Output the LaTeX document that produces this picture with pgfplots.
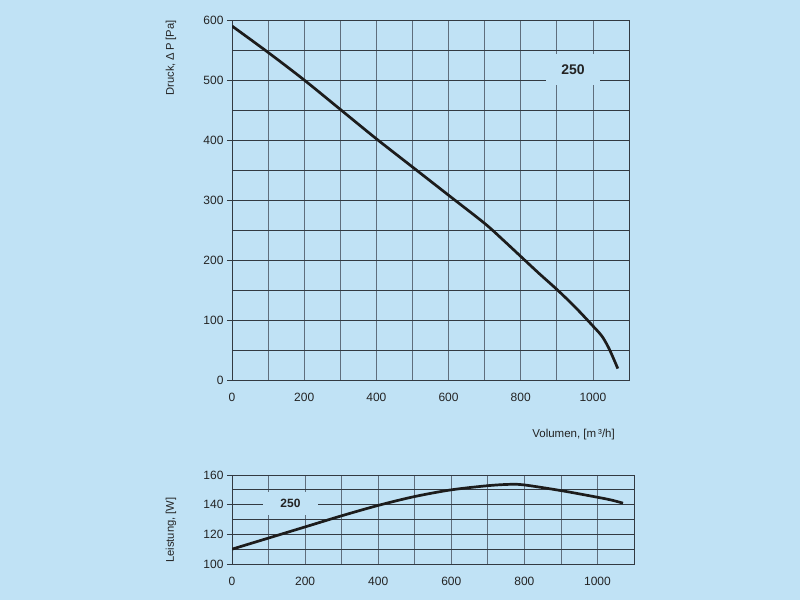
\documentclass[border=0pt]{standalone}
\usepackage{pgfplots}
\pgfplotsset{compat=1.18}
\usepackage{fontspec}
\setmainfont{Liberation Sans}
\definecolor{bg}{RGB}{192,226,245}
\definecolor{hgrid}{RGB}{50,58,66}
\definecolor{vgrid}{RGB}{95,110,125}
\definecolor{txt}{RGB}{35,35,35}
\definecolor{curvec}{RGB}{28,28,28}
\pgfplotsset{
  kstyle/.style={
    scale only axis,
    axis line style={draw=hgrid, line width=0.8pt},
    grid=both,
    major x grid style={draw=vgrid, line width=0.8pt},
    minor x grid style={draw=vgrid, line width=0.8pt},
    major y grid style={draw=hgrid, line width=0.8pt},
    minor y grid style={draw=hgrid, line width=0.8pt},
    tick align=outside,
    major tick length=5pt,
    minor tick length=0pt,
    xtick style={draw=none},
    ytick style={draw=hgrid, line width=0.8pt},
    ytick pos=left,
    xmin=0, xmax=1100,
    xtick={0,200,...,1000},
    minor xtick={100,300,...,1100},
    /pgf/number format/assume math mode=true,
    /pgf/number format/1000 sep={},
    ticklabel style={font=\fontsize{12}{14}\selectfont, text=txt},
    xticklabel style={yshift=-5pt},
  }
}
\begin{document}
\begin{tikzpicture}
\useasboundingbox (0pt,0pt) rectangle (800pt,600pt);
\fill[bg] (0pt,0pt) rectangle (800pt,600pt);
% upper chart: pressure
\begin{axis}[kstyle,
  at={(232pt,220pt)}, anchor=south west,
  width=397pt, height=360pt,
  ymin=0, ymax=600,
  ytick={0,100,...,600},
  minor ytick={50,150,...,550},
]
\addplot[curvec, line width=2.7pt, smooth] coordinates {
(0,590) (100,546) (200,500) (300,451) (400,402) (500,355) (600,308)
(700,261) (750,234) (800,206) (850,178) (900,151) (950,122) (1000,90)
(1025,73) (1045,52) (1069,19)
};
\node[fill=bg, minimum width=54pt, minimum height=31pt, inner sep=0pt,
  font=\bfseries\fontsize{14}{16}\selectfont, text=txt] at (axis cs:945,517) {250};
\end{axis}
% lower chart: power
\begin{axis}[kstyle,
  at={(232pt,36pt)}, anchor=south west,
  width=402pt, height=89pt,
  ymin=100, ymax=160,
  ytick={100,120,140,160},
  minor ytick={110,130,150},
]
\addplot[curvec, line width=2.7pt, smooth] coordinates {
(0,110) (100,117.5) (200,125) (300,132.5) (400,139.5) (500,145.5)
(600,150) (700,152.8) (760,153.7) (800,153.3) (900,149.5) (1000,145)
(1040,143) (1070,141)
};
\node[fill=bg, minimum width=55pt, minimum height=23pt, inner sep=0pt,
  font=\bfseries\fontsize{12}{14}\selectfont, text=txt] at (axis cs:160,140.8) {250};
\end{axis}
\node[rotate=90, anchor=east, inner sep=0pt, font=\fontsize{11.2}{13}\selectfont, text=txt]
  at (171pt,580pt) {Druck, Δ\,P [Pa]};
\node[anchor=base east, inner sep=0pt, font=\fontsize{11.5}{13}\selectfont, text=txt]
  at (615pt,163pt) {Volumen, [m\,³/h]};
\node[rotate=90, anchor=west, inner sep=0pt, font=\fontsize{11.2}{13}\selectfont, text=txt]
  at (171pt,37pt) {Leistung, [W]};
\end{tikzpicture}
\end{document}
